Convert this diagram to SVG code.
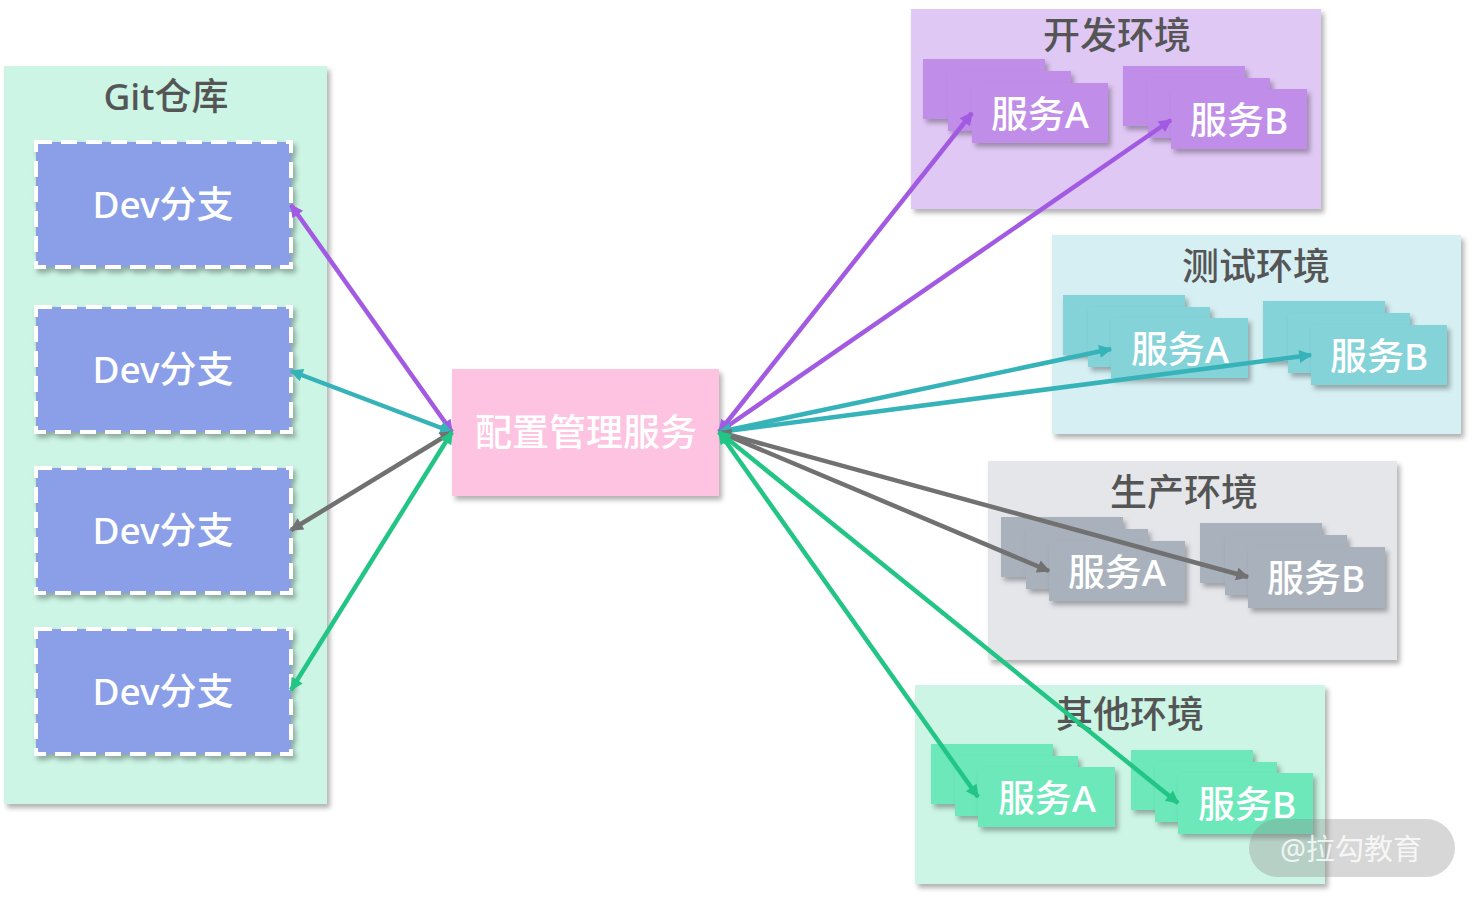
<svg xmlns="http://www.w3.org/2000/svg" width="1475" height="897" viewBox="0 0 1475 897">
<style>
text{font-family:"Noto Sans","Noto Sans CJK SC",sans-serif;text-anchor:middle;dominant-baseline:central}
.title{fill:#555;font-size:37px;font-weight:500}
.lbl{fill:#fff;font-size:37px;font-weight:500}
.dev{fill:#8a9fe8;stroke:#fff;stroke-width:4;stroke-dasharray:16 9}
.sh{filter:url(#ds)}
.c{fill:none;stroke-width:4.5}
.p{stroke:#a25ae2}.t{stroke:#36b3b9}.g{stroke:#717171}.gr{stroke:#22c585}
.sd{fill:#c08ee9}.st{fill:#84d3d9}.sp{fill:#a9b2bc}.so{fill:#6ce8bb}
</style>
<defs>
<filter id="ds" x="-10%" y="-10%" width="130%" height="140%"><feDropShadow dx="3" dy="4" stdDeviation="2.5" flood-color="#000" flood-opacity="0.3"/></filter>
<marker id="mp" viewBox="0 0 10 10" refX="9" refY="5" markerUnits="userSpaceOnUse" markerWidth="16" markerHeight="13" orient="auto-start-reverse"><path d="M0,0L10,5L0,10z" fill="#a25ae2"/></marker>
<marker id="mt" viewBox="0 0 10 10" refX="9" refY="5" markerUnits="userSpaceOnUse" markerWidth="16" markerHeight="13" orient="auto-start-reverse"><path d="M0,0L10,5L0,10z" fill="#36b3b9"/></marker>
<marker id="mg" viewBox="0 0 10 10" refX="9" refY="5" markerUnits="userSpaceOnUse" markerWidth="16" markerHeight="13" orient="auto-start-reverse"><path d="M0,0L10,5L0,10z" fill="#717171"/></marker>
<marker id="mgr" viewBox="0 0 10 10" refX="9" refY="5" markerUnits="userSpaceOnUse" markerWidth="16" markerHeight="13" orient="auto-start-reverse"><path d="M0,0L10,5L0,10z" fill="#22c585"/></marker>
</defs>
<rect width="1475" height="897" fill="#fff"/>

<g id="git">
<rect class="sh" x="4" y="66" width="323" height="738" fill="#ccf5e5"/>
<text class="title" x="166" y="95">Git仓库</text>
</g>
<g id="dev1"><rect class="dev sh" x="36" y="142" width="255" height="125"/><text class="lbl" x="163" y="203">Dev分支</text></g>
<g id="dev2"><rect class="dev sh" x="36" y="307" width="255" height="125"/><text class="lbl" x="163" y="368">Dev分支</text></g>
<g id="dev3"><rect class="dev sh" x="36" y="468" width="255" height="125"/><text class="lbl" x="163" y="529">Dev分支</text></g>
<g id="dev4"><rect class="dev sh" x="36" y="629" width="255" height="125"/><text class="lbl" x="163" y="690">Dev分支</text></g>

<g id="config">
<rect class="sh" x="452" y="369" width="267" height="127" fill="#fdc3e1"/>
<text class="lbl" x="586" y="431">配置管理服务</text>
</g>

<g id="env-dev">
<rect class="sh" x="911" y="9" width="410" height="200" fill="#e0c8f5"/>
<text class="title" x="1117" y="34">开发环境</text>
</g>
<g id="dev-sa">
<rect class="sd sh" x="923" y="59" width="122" height="60"/>
<rect class="sd sh" x="948" y="71" width="123" height="60"/>
<rect class="sd sh" x="972" y="83" width="136" height="60"/>
<text class="lbl" x="1040" y="113">服务A</text>
</g>
<g id="dev-sb">
<rect class="sd sh" x="1123" y="66" width="122" height="60"/>
<rect class="sd sh" x="1148" y="78" width="122" height="60"/>
<rect class="sd sh" x="1171" y="89" width="136" height="60"/>
<text class="lbl" x="1239" y="119">服务B</text>
</g>

<g id="env-test">
<rect class="sh" x="1052" y="235" width="409" height="199" fill="#d5eff3"/>
<text class="title" x="1256" y="265">测试环境</text>
</g>
<g id="test-sa">
<rect class="st sh" x="1063" y="295" width="122" height="60"/>
<rect class="st sh" x="1088" y="307" width="122" height="60"/>
<rect class="st sh" x="1111" y="318" width="137" height="60"/>
<text class="lbl" x="1180" y="348">服务A</text>
</g>
<g id="test-sb">
<rect class="st sh" x="1263" y="301" width="122" height="60"/>
<rect class="st sh" x="1288" y="313" width="122" height="60"/>
<rect class="st sh" x="1311" y="325" width="136" height="60"/>
<text class="lbl" x="1379" y="355">服务B</text>
</g>

<g id="env-prod">
<rect class="sh" x="988" y="461" width="409" height="199" fill="#e4e6ea"/>
<text class="title" x="1184" y="491">生产环境</text>
</g>
<g id="prod-sa">
<rect class="sp sh" x="1001" y="517" width="122" height="60"/>
<rect class="sp sh" x="1026" y="529" width="122" height="60"/>
<rect class="sp sh" x="1049" y="541" width="136" height="60"/>
<text class="lbl" x="1117" y="571">服务A</text>
</g>
<g id="prod-sb">
<rect class="sp sh" x="1200" y="523" width="122" height="60"/>
<rect class="sp sh" x="1225" y="535" width="122" height="60"/>
<rect class="sp sh" x="1248" y="547" width="137" height="61"/>
<text class="lbl" x="1316" y="577">服务B</text>
</g>

<g id="env-other">
<rect class="sh" x="915" y="685" width="410" height="199" fill="#ccf5e5"/>
<text class="title" x="1130" y="713">其他环境</text>
</g>
<g id="other-sa">
<rect class="so sh" x="931" y="744" width="122" height="60"/>
<rect class="so sh" x="955" y="756" width="123" height="60"/>
<rect class="so sh" x="978" y="767" width="137" height="60"/>
<text class="lbl" x="1047" y="797">服务A</text>
</g>
<g id="other-sb">
<rect class="so sh" x="1131" y="750" width="122" height="60"/>
<rect class="so sh" x="1155" y="762" width="122" height="60"/>
<rect class="so sh" x="1178" y="773" width="135" height="61"/>
<text class="lbl" x="1247" y="803">服务B</text>
</g>

<g id="connectors">
<line class="c p" x1="452" y1="432" x2="291" y2="205" marker-start="url(#mp)" marker-end="url(#mp)"/>
<line class="c t" x1="452" y1="432" x2="291" y2="371" marker-start="url(#mt)" marker-end="url(#mt)"/>
<line class="c g" x1="452" y1="432" x2="291" y2="530" marker-start="url(#mg)" marker-end="url(#mg)"/>
<line class="c gr" x1="452" y1="432" x2="291" y2="690" marker-start="url(#mgr)" marker-end="url(#mgr)"/>
<line class="c p" x1="719" y1="432" x2="972" y2="113" marker-start="url(#mp)" marker-end="url(#mp)"/>
<line class="c p" x1="719" y1="432" x2="1171" y2="120" marker-start="url(#mp)" marker-end="url(#mp)"/>
<line class="c t" x1="719" y1="432" x2="1111" y2="349" marker-start="url(#mt)" marker-end="url(#mt)"/>
<line class="c t" x1="719" y1="432" x2="1311" y2="355" marker-start="url(#mt)" marker-end="url(#mt)"/>
<line class="c g" x1="719" y1="432" x2="1049" y2="571" marker-start="url(#mg)" marker-end="url(#mg)"/>
<line class="c g" x1="719" y1="432" x2="1248" y2="577" marker-start="url(#mg)" marker-end="url(#mg)"/>
<line class="c gr" x1="719" y1="432" x2="978" y2="797" marker-start="url(#mgr)" marker-end="url(#mgr)"/>
<line class="c gr" x1="719" y1="432" x2="1178" y2="803" marker-start="url(#mgr)" marker-end="url(#mgr)"/>
</g>

<g id="watermark">
<rect x="1249" y="819" width="206" height="58" rx="29" fill="#8c8c8c" fill-opacity="0.35"/>
<text x="1351" y="848" style="fill:#fff;fill-opacity:0.8;font-size:29px">@拉勾教育</text>
</g>
</svg>
